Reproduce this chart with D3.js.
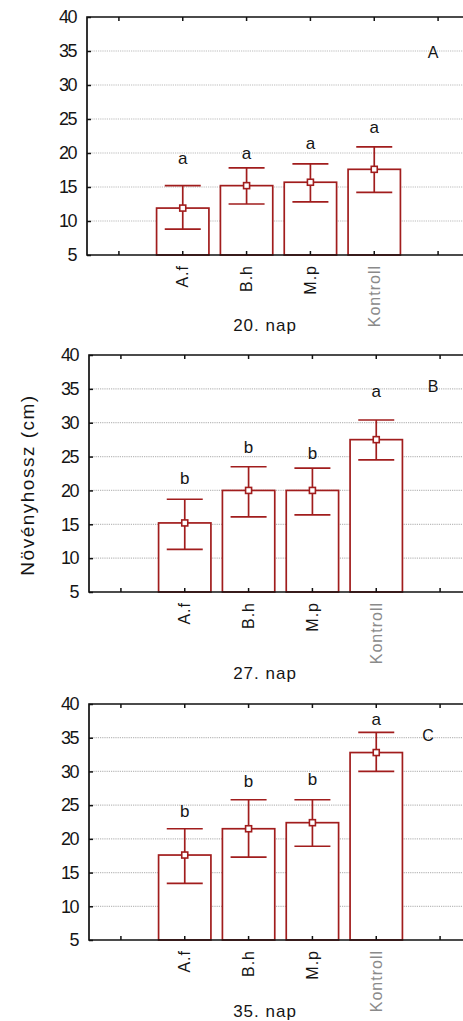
<!DOCTYPE html>
<html>
<head>
<meta charset="utf-8">
<script src="https://cdn.jsdelivr.net/npm/d3@7"></script>
<style>
  body { margin: 0; background: #fff; }
  svg text { font-family: "Liberation Sans", Arial, sans-serif; fill: #151515; }
</style>
</head>
<body>
<svg id="chart"></svg>
<script>
// Data
const categories = ["A.f", "B.h", "M.p", "Kontroll"];
const yTicks = [5, 10, 15, 20, 25, 30, 35, 40];
const days = ["20. nap", "27. nap", "35. nap"];
const panelLabels = ["A", "B", "C"];

// means, upper / lower error bar ends, significance letters and where they sit
const meanA = [11.9, 15.2, 15.7, 17.6];
const upperA = [15.2, 17.8, 18.4, 20.9];
const lowerA = [8.8, 12.5, 12.8, 14.2];
const lettersA = ["a", "a", "a", "a"];
const letterPosA = [19.3, 20.0, 21.5, 23.8];

const meanB = [15.2, 20.0, 20.0, 27.5];
const upperB = [18.7, 23.5, 23.3, 30.4];
const lowerB = [11.3, 16.1, 16.4, 24.5];
const lettersB = ["b", "b", "b", "a"];
const letterPosB = [21.9, 26.4, 25.5, 34.7];

const meanC = [17.6, 21.5, 22.4, 32.8];
const upperC = [21.5, 25.8, 25.8, 35.8];
const lowerC = [13.4, 17.3, 18.9, 30.0];
const lettersC = ["b", "b", "b", "a"];
const letterPosC = [24.1, 28.6, 28.9, 37.8];

const svgWidth = 463;
const svgHeight = 1021;
const red = "#a11d1d";

const svg = d3.select("#chart")
    .attr("width", svgWidth)
    .attr("height", svgHeight);

// layout of the three stacked panels
const panels = [
    { left: 87, top: 17, bottom: 255, titleY: 331, labelPos: [433, 52], mean: meanA, upper: upperA, lower: lowerA, letters: lettersA, letterPos: letterPosA },
    { left: 89, top: 355, bottom: 592, titleY: 679, labelPos: [433, 386], mean: meanB, upper: upperB, lower: lowerB, letters: lettersB, letterPos: letterPosB },
    { left: 89, top: 704, bottom: 940, titleY: 1017, labelPos: [428, 735], mean: meanC, upper: upperC, lower: lowerC, letters: lettersC, letterPos: letterPosC }
];

// one empty slot on each side of the categories
const slots = ["_left", ...categories, "_right"];

panels.forEach((p, i) => {
    const right = p.left + 383;
    const x = d3.scaleBand().domain(slots).range([p.left, right]).paddingInner(0.18).paddingOuter(0.09);
    const xc = d => x(d) + x.bandwidth() / 2;
    const y = d3.scaleLinear().domain([5, 40]).range([p.bottom, p.top]);

    const g = svg.append("g");

    // dotted grid lines
    g.append("g")
        .selectAll("line")
        .data(yTicks.filter(t => t > 5 && t < 40))
        .enter()
        .append("line")
        .attr("x1", p.left)
        .attr("x2", right)
        .attr("y1", d => y(d))
        .attr("y2", d => y(d))
        .attr("stroke", "#bbbbbb")
        .attr("stroke-width", 1.2)
        .attr("stroke-dasharray", "1.2,1");

    const rows = categories.map((c, j) => ({
        cat: c, mean: p.mean[j], up: p.upper[j], lo: p.lower[j], letter: p.letters[j], lpos: p.letterPos[j]
    }));

    // bars
    g.selectAll(".bar")
        .data(rows)
        .enter()
        .append("rect")
        .attr("x", d => x(d.cat))
        .attr("width", x.bandwidth())
        .attr("y", d => y(d.mean))
        .attr("height", d => y(5) - y(d.mean))
        .attr("fill", "#fff")
        .attr("stroke", red)
        .attr("stroke-width", 1.7);

    // error bars
    const capW = 18;
    g.selectAll(".whisker")
        .data(rows)
        .enter()
        .append("line")
        .attr("x1", d => xc(d.cat))
        .attr("x2", d => xc(d.cat))
        .attr("y1", d => y(d.up))
        .attr("y2", d => y(d.lo))
        .attr("stroke", red)
        .attr("stroke-width", 1.7);
    ["up", "lo"].forEach(k => {
        g.selectAll(".cap-" + k)
            .data(rows)
            .enter()
            .append("line")
            .attr("x1", d => xc(d.cat) - capW)
            .attr("x2", d => xc(d.cat) + capW)
            .attr("y1", d => y(d[k]))
            .attr("y2", d => y(d[k]))
            .attr("stroke", red)
            .attr("stroke-width", 1.7);
    });

    // mean markers
    g.selectAll(".marker")
        .data(rows)
        .enter()
        .append("rect")
        .attr("x", d => xc(d.cat) - 3)
        .attr("y", d => y(d.mean) - 3)
        .attr("width", 6)
        .attr("height", 6)
        .attr("fill", "#fff")
        .attr("stroke", red)
        .attr("stroke-width", 1.6);

    // significance letters
    g.selectAll(".letter")
        .data(rows)
        .enter()
        .append("text")
        .attr("x", d => xc(d.cat))
        .attr("y", d => y(d.lpos))
        .attr("dy", "0.35em")
        .attr("text-anchor", "middle")
        .style("font-size", "17px")
        .text(d => d.letter);

    // frame (right side runs off the picture)
    g.append("path")
        .attr("d", `M${right},${p.top}H${p.left}V${p.bottom}H${right}`)
        .attr("fill", "none")
        .attr("stroke", "#111")
        .attr("stroke-width", 1.7);

    // y axis
    const yAxis = g.append("g")
        .attr("transform", `translate(${p.left},0)`)
        .call(d3.axisLeft(y).tickValues(yTicks).tickSize(-4).tickPadding(11));
    yAxis.select(".domain").remove();
    yAxis.selectAll("line").attr("stroke", "#111").attr("stroke-width", 1.5);
    yAxis.selectAll("text")
        .style("font-size", "18px")
        .style("letter-spacing", "-1.5px")
        .attr("fill", "#151515");

    // tick marks on top and bottom edges
    ["top", "bottom"].forEach(side => {
        const yy = side === "top" ? p.top : p.bottom;
        const dir = side === "top" ? 4 : -4;
        g.append("g")
            .selectAll("line")
            .data(slots)
            .enter()
            .append("line")
            .attr("x1", d => xc(d))
            .attr("x2", d => xc(d))
            .attr("y1", yy)
            .attr("y2", yy + dir)
            .attr("stroke", "#111")
            .attr("stroke-width", 1.5);
    });

    // category labels, rotated
    g.selectAll(".catLabel")
        .data(categories)
        .enter()
        .append("text")
        .attr("transform", d => `translate(${xc(d)},${p.bottom + 10}) rotate(-90)`)
        .attr("dy", "0.35em")
        .attr("text-anchor", "end")
        .style("font-size", "16px")
        .style("letter-spacing", "1px")
        .style("fill", d => d === "Kontroll" ? "#8a8a8a" : "#151515")
        .text(d => d);

    // day title
    g.append("text")
        .attr("x", 265)
        .attr("y", p.titleY)
        .attr("text-anchor", "middle")
        .style("font-size", "17px")
        .style("letter-spacing", "1px")
        .text(days[i]);

    // panel letter
    g.append("text")
        .attr("x", p.labelPos[0])
        .attr("y", p.labelPos[1])
        .attr("dy", "0.35em")
        .attr("text-anchor", "middle")
        .style("font-size", "16px")
        .text(panelLabels[i]);
});

// shared y axis title
svg.append("text")
    .attr("transform", "translate(27,485) rotate(-90)")
    .attr("dy", "0.35em")
    .attr("text-anchor", "middle")
    .style("font-size", "19px")
    .style("letter-spacing", "1.5px")
    .text("Növényhossz (cm)");
</script>
</body>
</html>
